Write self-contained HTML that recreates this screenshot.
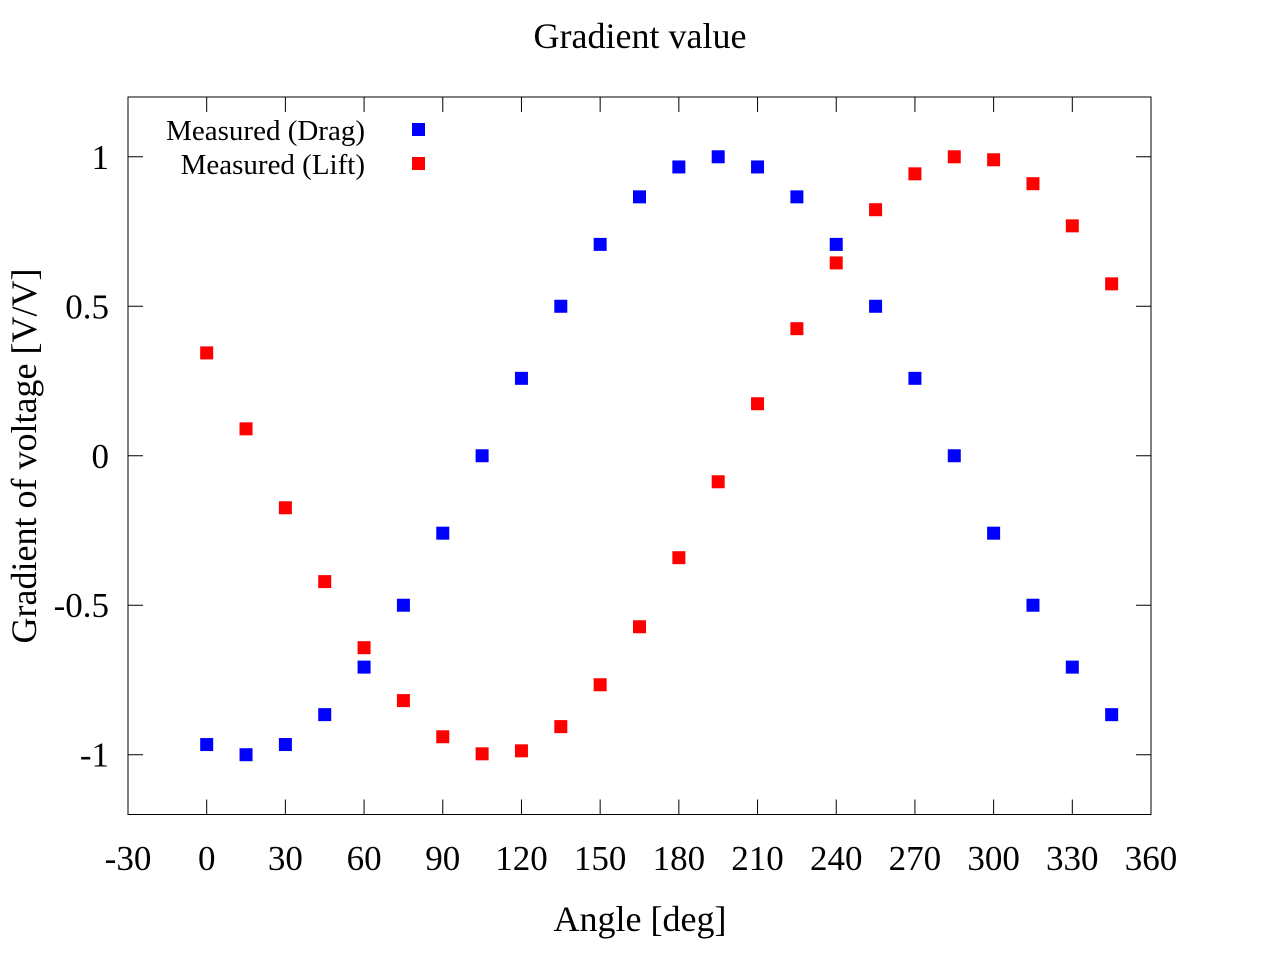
<!DOCTYPE html>
<html><head><meta charset="utf-8"><style>
body{margin:0;background:#fff}
svg text{font-family:"Liberation Serif",serif;fill:#000}
</style></head><body>
<svg id="chart" width="1280" height="960">
<rect width="1280" height="960" fill="#fff"/>
<text x="640" y="48" font-size="36" text-anchor="middle">Gradient value</text>
<text x="640" y="931" font-size="36" text-anchor="middle">Angle [deg]</text>
<text transform="translate(36,456) rotate(-90)" font-size="36" text-anchor="middle">Gradient of voltage [V/V]</text>
<g id="axes"></g>
<g id="marks"></g>
<g id="legend">
<text x="365" y="140" font-size="29" text-anchor="end">Measured (Drag)</text>
<rect x="412" y="123" width="13" height="13" fill="#0000ff"/>
<text x="365" y="174" font-size="29" text-anchor="end">Measured (Lift)</text>
<rect x="412" y="157" width="13" height="13" fill="#ff0000"/>
</g>
</svg>
<script>
const angles=[0,15,30,45,60,75,90,105,120,135,150,165,180,195,210,225,240,255,270,285,300,315,330,345];
const drag=[-0.966,-1,-0.966,-0.866,-0.707,-0.5,-0.259,0,0.259,0.5,0.707,0.866,0.966,1,0.966,0.866,0.707,0.5,0.259,0,-0.259,-0.5,-0.707,-0.866];
const lift=[0.344,0.09,-0.174,-0.421,-0.642,-0.819,-0.94,-0.997,-0.987,-0.906,-0.766,-0.572,-0.341,-0.087,0.174,0.425,0.645,0.823,0.943,1,0.99,0.91,0.769,0.575];
const xTicks=[-30,0,30,60,90,120,150,180,210,240,270,300,330,360];
const yTicks=[-1,-0.5,0,0.5,1];
const L=128,R=1151,T=97,B=814.5;
const xMin=-30,xMax=360,yMin=-1.2,yMax=1.2;
const sx=v=>L+(v-xMin)/(xMax-xMin)*(R-L);
const sy=v=>B-(v-yMin)/(yMax-yMin)*(B-T);
const NS="http://www.w3.org/2000/svg";
const axes=document.getElementById('axes'),marks=document.getElementById('marks');
function mk(tag,attrs,parent){const e=document.createElementNS(NS,tag);for(const k in attrs)e.setAttribute(k,attrs[k]);parent.appendChild(e);return e;}
const frame=mk('rect',{x:L,y:T,width:R-L,height:B-T,fill:'none',stroke:'#000','stroke-width':1},axes);


xTicks.forEach(v=>{
  const x=sx(v);
  const t=mk('path',{d:`M${x},${B}v-15M${x},${T}v15`,stroke:'#000','stroke-width':1},axes);
  
  
  const l=mk('text',{x:x,y:870,'font-size':35,'text-anchor':'middle'},axes);
  l.textContent=v;
  
  
});
yTicks.forEach(v=>{
  const y=sy(v);
  const t=mk('path',{d:`M${L},${y}h15M${R},${y}h-15`,stroke:'#000','stroke-width':1},axes);
  
  
  const l=mk('text',{x:109,y:y+12,'font-size':35,'text-anchor':'end'},axes);
  l.textContent=v;
  
  
});
function series(vals,color,name){
  vals.forEach((v,i)=>{
    const r=mk('rect',{x:sx(angles[i])-6.5,y:sy(v)-6.5,width:13,height:13,fill:color},marks);
    
    
  });
}
series(drag,'#0000ff','drag-point');
series(lift,'#ff0000','lift-point');
</script>
</body></html>
